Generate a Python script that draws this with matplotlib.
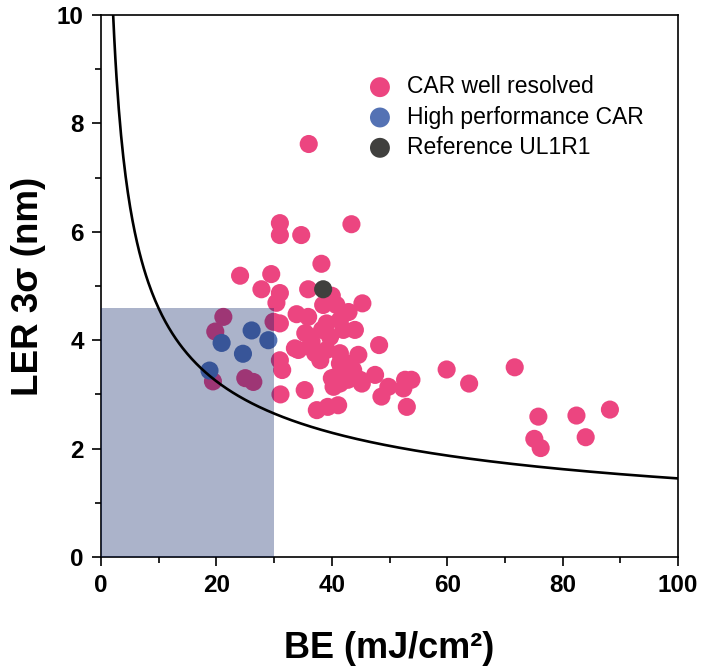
import numpy as np
import matplotlib.pyplot as plt
from matplotlib.ticker import MultipleLocator
from matplotlib.patches import Rectangle

plt.rcParams['font.family'] = ['Liberation Sans', 'DejaVu Sans']

# CAR well resolved (BE, LER)
car_be = [36.0, 31.0, 31.0, 34.7, 43.4, 38.2, 24.1, 29.5, 27.8, 31.0, 30.4,
          35.9, 40.0, 38.5, 45.3, 42.9, 40.8, 33.9, 35.9, 31.0, 29.9,
          21.2, 19.8, 19.4, 25.0, 26.4, 31.0, 31.4, 31.1, 35.3,
          37.4, 39.3, 41.1, 39.1, 41.4, 44.0, 35.4, 38.3, 39.7, 42.0,
          33.6, 36.2, 39.1, 41.4, 44.6, 48.2, 36.5, 38.0, 42.6, 43.7,
          40.8, 44.9, 47.5, 40.3, 45.2, 42.8, 49.8, 52.7, 53.8, 52.4,
          48.6, 53.0, 59.9, 63.8, 71.7, 75.8, 75.1, 76.2, 82.4, 88.2,
          84.0, 34.2, 37.1, 41.4, 40.0, 41.4]
car_ler = [7.62, 6.16, 5.94, 5.94, 6.14, 5.41, 5.19, 5.22, 4.94, 4.87, 4.69,
           4.94, 4.82, 4.65, 4.68, 4.52, 4.65, 4.48, 4.43, 4.31, 4.34,
           4.43, 4.16, 3.24, 3.30, 3.23, 3.63, 3.45, 3.00, 3.08,
           2.71, 2.77, 2.80, 4.31, 4.37, 4.19, 4.13, 4.19, 4.06, 4.19,
           3.85, 3.88, 3.82, 3.76, 3.73, 3.91, 3.97, 3.63, 3.57, 3.45,
           3.33, 3.27, 3.36, 3.14, 3.20, 3.27, 3.14, 3.27, 3.27, 3.11,
           2.96, 2.77, 3.46, 3.20, 3.50, 2.59, 2.18, 2.01, 2.61, 2.72,
           2.21, 3.82, 3.76, 3.57, 3.30, 3.20]

# High performance CAR
hp_be = [26.1, 20.9, 29.0, 24.6, 18.8]
hp_ler = [4.18, 3.95, 4.00, 3.75, 3.44]

# Reference UL1R1
ref_be = [38.5]
ref_ler = [4.94]

# trade-off curve LER = K / sqrt(BE)
K = 14.5
# target box
box_be = 30.0
box_ler = 4.6

fig = plt.figure(figsize=(7.05, 6.67), dpi=100)
ax = fig.add_axes([0.1433, 0.1649, 0.8184, 0.8126])

ms = 170
ax.scatter(car_be, car_ler, s=ms, color='#ec4580', edgecolors='none',
           label='CAR well resolved', zorder=2)
ax.scatter(hp_be, hp_ler, s=ms, color='#5472b4', edgecolors='none',
           label='High performance CAR', zorder=3)
ax.scatter(ref_be, ref_ler, s=ms, color='#40403e', edgecolors='none',
           label='Reference UL1R1', zorder=3)

ax.add_patch(Rectangle((0, 0), box_be, box_ler, facecolor='#001a60',
                       alpha=0.33, edgecolor='none', zorder=4))

be = np.linspace(1.5, 100, 500)
ax.plot(be, K / np.sqrt(be), color='black', lw=1.9, zorder=5)

ax.set_xlim(0, 100)
ax.set_ylim(0, 10)
ax.xaxis.set_major_locator(MultipleLocator(20))
ax.xaxis.set_minor_locator(MultipleLocator(10))
ax.yaxis.set_major_locator(MultipleLocator(2))
ax.yaxis.set_minor_locator(MultipleLocator(1))
ax.tick_params(which='major', direction='out', length=6.5, width=1.2,
               labelsize=17.5, pad=6)
ax.tick_params(which='minor', direction='out', length=4, width=1.2)
for lbl in ax.get_xticklabels() + ax.get_yticklabels():
    lbl.set_fontweight('bold')
for sp in ax.spines.values():
    sp.set_linewidth(1.2)

ax.set_xlabel('BE (mJ/cm²)', fontsize=26, fontweight='bold', labelpad=24)
ax.set_ylabel('LER 3σ (nm)', fontsize=26.5, fontweight='bold', labelpad=8)

ax.legend(loc='upper left', bbox_to_anchor=(0.4437, 0.889), frameon=False,
          fontsize=16.5, handletextpad=0.2, labelspacing=0.32,
          borderaxespad=0, borderpad=0, markerscale=1.1)

fig.savefig('out.png', dpi=100)
